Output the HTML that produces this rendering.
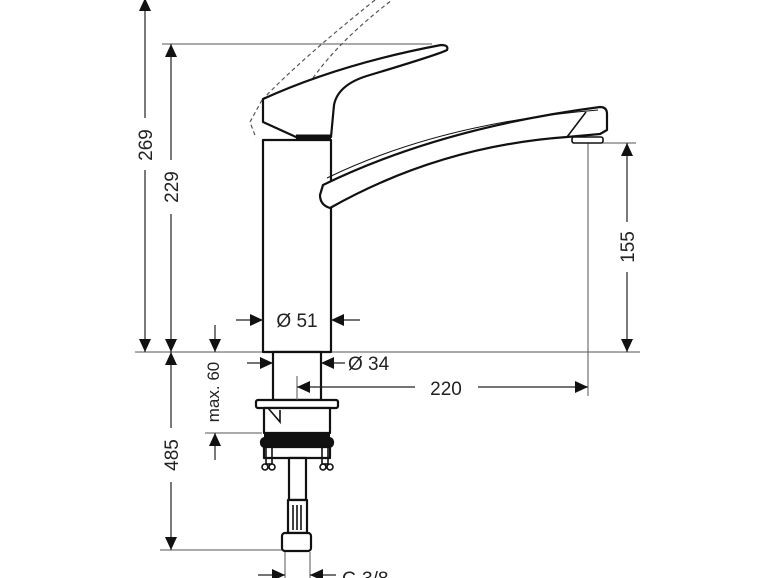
<!DOCTYPE html>
<html><head><meta charset="utf-8"><style>
html,body{margin:0;padding:0;background:#fff;}
svg{display:block;}
text{font-family:"Liberation Sans",sans-serif;font-size:19px;fill:#222;}
</style></head><body>
<svg width="770" height="578" viewBox="0 0 770 578" xmlns="http://www.w3.org/2000/svg">
<g stroke="#555" stroke-width="1" fill="none">
<line x1="162" y1="44" x2="432" y2="44"/>
<line x1="135" y1="352" x2="640" y2="352"/>
<line x1="588" y1="143" x2="636" y2="143"/>
<line x1="588" y1="143" x2="588" y2="396"/>
<line x1="205" y1="433" x2="262" y2="433"/>
<line x1="160" y1="550" x2="284" y2="550"/>
<line x1="285" y1="552" x2="285" y2="578"/>
<line x1="310" y1="552" x2="310" y2="578"/>
</g>
<g stroke="#555" stroke-width="1.2" fill="none" stroke-dasharray="4,3">
<path d="M262,100 L250,122 L256,138"/>
<path d="M262,100 Q300,60 375,0"/>
<path d="M313,78 Q340,40 392,0"/>
</g>
<g stroke="#111" stroke-width="2.2" fill="#fff" stroke-linejoin="round">
<rect x="263" y="140" width="68" height="212"/>
<path d="M263,99 Q340,64 441,45 Q449,45 447,50 Q440,54 370,75 Q338,84 334,105 L331,137 L296,137 L263,122 Z"/>
<path d="M323,185 Q440,128 600,107 Q607,107 607,114 L607,130 L600,134 L567,137 Q440,146 330,208 Q320,205 320,195 Z"/>
<rect x="273" y="352" width="48" height="48"/>
<rect x="256" y="400" width="82" height="8" rx="2"/>
<rect x="264" y="408" width="66" height="25"/>
<rect x="261" y="438" width="72" height="9" rx="4" fill="#111"/>
<rect x="264" y="447" width="66" height="11"/>
<rect x="289" y="458" width="17" height="42"/>
<rect x="288" y="500" width="19" height="33"/>
<rect x="282" y="533" width="29" height="18" rx="3"/>
</g>
<g stroke="#111" stroke-width="1.6" fill="none">
<line x1="296" y1="137" x2="331" y2="137" stroke-width="5"/>
<line x1="264" y1="435" x2="330" y2="435" stroke-width="5"/>
<path d="M327,178 Q440,123 598,110" stroke-width="1"/>
<line x1="567" y1="137" x2="586" y2="112"/>
<rect x="572" y="137" width="31" height="6" rx="2" fill="#fff"/>
<path d="M268,408 L280,422 L280,410"/>
<rect x="266" y="447" width="6" height="17"/><rect x="322" y="447" width="6" height="17"/>
<circle cx="265" cy="467" r="3"/><circle cx="272" cy="467" r="3"/>
<circle cx="323" cy="467" r="3"/><circle cx="330" cy="467" r="3"/>
<line x1="293" y1="505" x2="293" y2="530"/><line x1="297" y1="505" x2="297" y2="530"/><line x1="301" y1="505" x2="301" y2="530"/>
</g>
<g stroke="#222" stroke-width="1.2" fill="none">
<line x1="297" y1="376" x2="297" y2="400" stroke="#555" stroke-width="1"/>
<line x1="145" y1="0" x2="145" y2="118"/><line x1="145" y1="170" x2="145" y2="352"/>
<line x1="171" y1="44" x2="171" y2="160"/><line x1="171" y1="214" x2="171" y2="352"/>
<line x1="171" y1="352" x2="171" y2="428"/><line x1="171" y1="482" x2="171" y2="550"/>
<line x1="215" y1="325" x2="215" y2="352"/><line x1="215" y1="433" x2="215" y2="460"/>
<line x1="627" y1="143" x2="627" y2="222"/><line x1="627" y1="272" x2="627" y2="352"/>
<line x1="236" y1="320" x2="263" y2="320"/><line x1="331" y1="320" x2="360" y2="320"/>
<line x1="247" y1="363" x2="273" y2="363"/><line x1="321" y1="363" x2="345" y2="363"/>
<line x1="297" y1="387" x2="415" y2="387"/><line x1="478" y1="387" x2="588" y2="387"/>
<line x1="258" y1="575" x2="285" y2="575"/><line x1="310" y1="575" x2="336" y2="575"/>
</g>
<g fill="#111">
<path d="M145,-2 l-6,13 h12z"/>
<path d="M171,44 l-6,13 h12z"/>
<path d="M171,352 l-6,13 h12z"/>
<path d="M215,433 l-6,13 h12z"/>
<path d="M627,143 l-6,13 h12z"/>
<path d="M145,352 l-6,-13 h12z"/>
<path d="M171,352 l-6,-13 h12z"/>
<path d="M171,550 l-6,-13 h12z"/>
<path d="M215,352 l-6,-13 h12z"/>
<path d="M627,352 l-6,-13 h12z"/>
<path d="M263,320 l-13,-6 v12z"/>
<path d="M273,363 l-13,-6 v12z"/>
<path d="M588,387 l-13,-6 v12z"/>
<path d="M285,575 l-13,-6 v12z"/>
<path d="M331,320 l13,-6 v12z"/>
<path d="M321,363 l13,-6 v12z"/>
<path d="M297,387 l13,-6 v12z"/>
<path d="M310,575 l13,-6 v12z"/>
</g>
<text transform="translate(152,145) rotate(-90)" text-anchor="middle">269</text>
<text transform="translate(178,187) rotate(-90)" text-anchor="middle">229</text>
<text transform="translate(178,455) rotate(-90)" text-anchor="middle">485</text>
<text transform="translate(219,392) rotate(-90)" text-anchor="middle" style="font-size:17px">max. 60</text>
<text transform="translate(634,247) rotate(-90)" text-anchor="middle">155</text>
<text x="297" y="327" text-anchor="middle">Ø 51</text>
<text x="348" y="370">Ø 34</text>
<text x="446" y="395" text-anchor="middle">220</text>
<text x="342" y="585">G 3/8</text>
</svg>
</body></html>
